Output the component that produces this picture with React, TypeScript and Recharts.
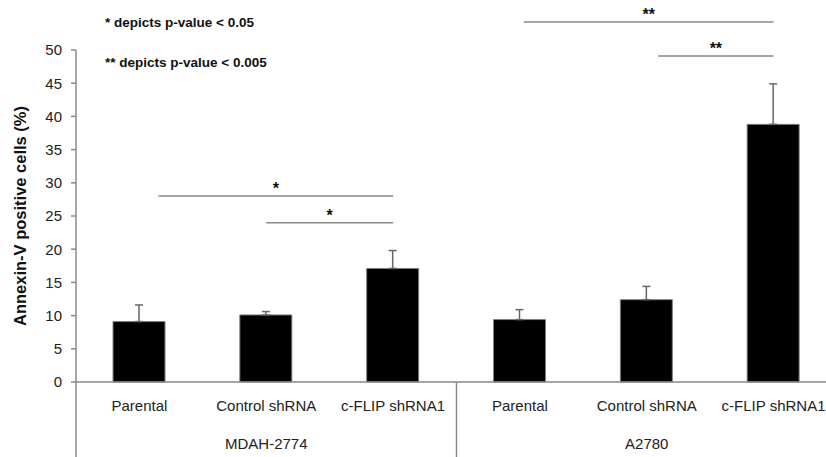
import { BarChart, Bar, XAxis, YAxis, ErrorBar, ReferenceLine } from 'recharts';

const categories = ['Parental', 'Control shRNA', 'c-FLIP shRNA1', 'Parental', 'Control shRNA', 'c-FLIP shRNA1'];
const cellLines = ['MDAH-2774', 'MDAH-2774', 'MDAH-2774', 'A2780', 'A2780', 'A2780'];
const meanValues = [9.1, 10.1, 17.1, 9.4, 12.4, 38.8];
const errValues = [2.5, 0.5, 2.7, 1.5, 2.0, 6.1];
const yTicks = [0, 5, 10, 15, 20, 25, 30, 35, 40, 45, 50];

// significance brackets, in category units (0..6) and y units
const sigFrom = [0.65, 1.5, 3.53, 4.59];
const sigTo = [2.5, 2.5, 5.5, 5.5];
const sigLevel = [28, 24, 54.2, 49.1];
const sigLabel = ['*', '*', '**', '**'];

// group separators below the axis
const groupEdges = [0, 3];
const axisFloor = -11.5;

const notes = ['* depicts p-value < 0.05', '** depicts p-value < 0.005'];

const data = categories.map((c, i) => ({
  label: c,
  pos: i + 0.5,
  value: meanValues[i],
  err: [0, errValues[i]],
}));

const FONT = '"Liberation Sans", Arial, sans-serif';
const AXIS = '#888';

function groupMiddle(index: number) {
  const name = cellLines[index];
  const first = cellLines.indexOf(name);
  const count = cellLines.filter((g) => g === name).length;
  return index === first + Math.floor(count / 2);
}

function CategoryTick(props: any) {
  const { x, y, payload, index } = props;
  return (
    <g>
      <text x={x} y={y + 29} textAnchor="middle" fontSize={15} fontFamily={FONT} fill="#222">
        {payload.value}
      </text>
      {groupMiddle(index) && (
        <text x={x} y={y + 67} textAnchor="middle" fontSize={15} fontFamily={FONT} fill="#222">
          {cellLines[index]}
        </text>
      )}
    </g>
  );
}

export default function App() {
  return (
    <div
      style={{
        position: 'absolute',
        left: 0,
        top: 0,
        width: 826,
        height: 457,
        overflow: 'hidden',
        background: '#fff',
      }}
    >
      {notes.map((n, i) => (
        <div
          key={n}
          style={{
            position: 'absolute',
            left: 105,
            top: 15 + i * 40,
            fontFamily: FONT,
            fontWeight: 'bold',
            fontSize: 13.5,
            lineHeight: '16px',
            color: '#111',
            whiteSpace: 'nowrap',
          }}
        >
          {n}
        </div>
      ))}
      <BarChart width={840} height={457} data={data} margin={{ top: 50, right: 3, bottom: 0, left: 0 }}>
        <XAxis
          dataKey="label"
          height={75}
          stroke={AXIS}
          strokeWidth={1.5}
          tickLine={false}
          tickSize={0}
          tickMargin={0}
          interval={0}
          tick={<CategoryTick />}
        />
        <XAxis xAxisId="num" dataKey="pos" type="number" domain={[0, 6]} allowDataOverflow hide />
        <YAxis
          width={76}
          domain={[0, 50]}
          ticks={yTicks}
          interval={0}
          stroke={AXIS}
          strokeWidth={1.5}
          tickSize={5}
          tickMargin={9}
          tick={{ fontSize: 15, fontFamily: FONT, fill: '#222' }}
          label={{
            value: 'Annexin-V positive cells (%)',
            angle: -90,
            position: 'insideLeft',
            offset: 20,
            style: { textAnchor: 'middle', fontSize: 16.5, fontWeight: 'bold', fontFamily: FONT, fill: '#111' },
          }}
        />
        <Bar dataKey="value" barSize={52} fill="#000" stroke="#808080" strokeWidth={1} isAnimationActive={false}>
          <ErrorBar dataKey="err" width={4} stroke="#666" strokeWidth={1.5} direction="y" />
        </Bar>
        {groupEdges.map((g) => (
          <ReferenceLine
            key={'edge' + g}
            xAxisId="num"
            segment={[
              { x: g, y: 0 },
              { x: g, y: axisFloor },
            ]}
            stroke={AXIS}
            strokeWidth={1.5}
            ifOverflow="visible"
          />
        ))}
        {sigFrom.map((f, i) => (
          <ReferenceLine
            key={'sig' + i}
            xAxisId="num"
            segment={[
              { x: f, y: sigLevel[i] },
              { x: sigTo[i], y: sigLevel[i] },
            ]}
            stroke={AXIS}
            strokeWidth={1.5}
            ifOverflow="visible"
            label={{
              value: sigLabel[i],
              position: 'top',
              offset: 2,
              fontSize: 16,
              fontWeight: 'bold',
              fontFamily: FONT,
              fill: '#111',
            }}
          />
        ))}
      </BarChart>
    </div>
  );
}
